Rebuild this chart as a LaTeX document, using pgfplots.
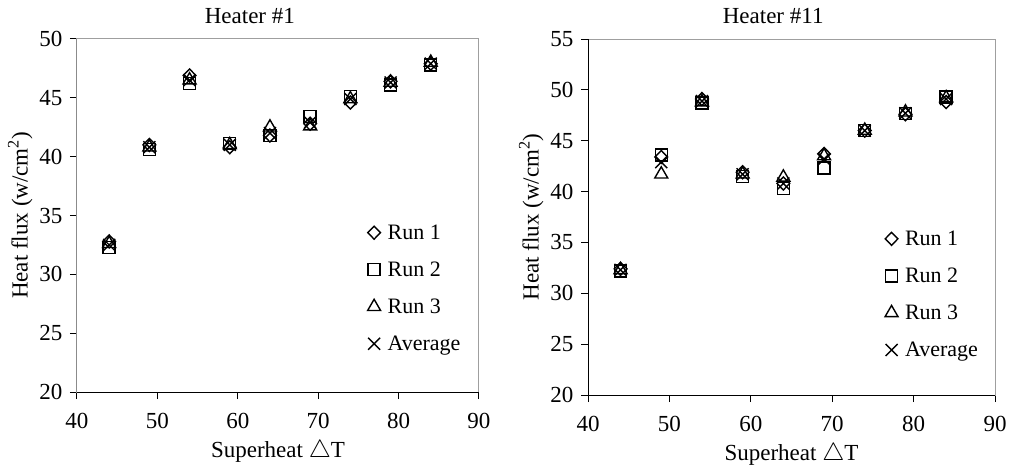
\documentclass[border=0pt]{standalone}
\usepackage{fontspec}
\setmainfont{Liberation Serif}
\usepackage{pgfplots}
\pgfplotsset{compat=1.18}
\begin{document}
\begin{tikzpicture}[x=1pt,y=1pt]
\useasboundingbox (-77pt,-72pt) rectangle (933pt,392pt);
\pgfplotsset{
  heater/.style={
    scale only axis,
    font=\fontsize{23}{27}\selectfont,
    tick label style={font=\fontsize{23}{27}\selectfont},
    /pgf/number format/assume math mode=true,
    xmin=40, xmax=90, xtick={40,50,...,90},
    tick align=outside, xtick pos=bottom, ytick pos=left,
    major tick length=7pt,
    major tick style={black, line width=1pt},
    axis line style={draw=gray!75, line width=1pt},
    xticklabel style={yshift=-11pt},
    yticklabel style={xshift=-4pt},
    xlabel={Superheat $\triangle$T},
    ylabel={Heat flux (w/cm\textsuperscript{2})},
    xlabel style={yshift=-4pt},
    ylabel style={yshift=0pt},
    legend cell align=left,
    legend style={draw=none, fill=none, row sep=17pt, column sep=5pt, font=\fontsize{22}{26}\selectfont},
  },
  m1/.style={only marks, black, line width=1.4pt, mark=diamond, mark size=6.5pt, mark options={xscale=1.3}},
  m2/.style={only marks, black, line width=1.4pt, mark=square, mark size=6pt},
  m3/.style={only marks, black, line width=1.4pt, mark=triangle, mark size=7.5pt},
  m4/.style={only marks, black, line width=1.4pt, mark=x, mark size=8.5pt},
}
\begin{axis}[heater, at={(0pt,0pt)}, anchor=south west, width=402pt, height=353pt,
  ymin=20, ymax=50, ytick={20,25,...,50},
  title={Heater \#1}, title style={at={(0.43,1)}, anchor=center, yshift=17pt},
  legend style={at={(0.715,0.486)}, anchor=north west}]
\addplot[m1] coordinates {(44,32.8) (49,41.0) (54,46.9) (59,40.8) (64,41.8) (69,42.8) (74,44.6) (79,46.4) (84,47.9)};
\addplot[m2] coordinates {(44,32.3) (49,40.6) (54,46.2) (59,41.1) (64,41.8) (69,43.4) (74,45.1) (79,46.1) (84,47.8)};
\addplot[m3] coordinates {(44,32.6) (49,40.8) (54,46.5) (59,41.0) (64,42.5) (69,42.6) (74,44.9) (79,46.3) (84,48.0)};
\addplot[m4] coordinates {(44,32.5) (49,40.8) (54,46.5) (59,41.0) (64,42.0) (69,42.9) (74,44.9) (79,46.3) (84,47.9)};
\legend{Run 1, Run 2, Run 3, Average}
\draw[black, line width=1pt] (rel axis cs:0,1) -- (rel axis cs:0,0) -- (rel axis cs:1,0);
\end{axis}
\begin{axis}[heater, at={(511pt,-3pt)}, anchor=south west, width=407pt, height=356pt,
  ymin=20, ymax=55, ytick={20,25,...,55},
  title={Heater \#11}, title style={at={(0.455,1)}, anchor=center, yshift=17pt},
  legend style={at={(0.722,0.473)}, anchor=north west}]
\addplot[m1] coordinates {(44,32.4) (49,43.4) (54,49.1) (59,41.9) (64,40.8) (69,43.7) (74,46.0) (79,47.6) (84,48.8)};
\addplot[m2] coordinates {(44,32.2) (49,43.6) (54,48.7) (59,41.5) (64,40.3) (69,42.3) (74,46.0) (79,47.7) (84,49.3)};
\addplot[m3] coordinates {(44,32.3) (49,41.7) (54,48.8) (59,41.7) (64,41.4) (69,43.5) (74,46.0) (79,47.8) (84,49.2)};
\addplot[m4] coordinates {(44,32.3) (49,42.9) (54,48.9) (59,41.7) (64,40.8) (69,43.2) (74,46.0) (79,47.7) (84,49.1)};
\legend{Run 1, Run 2, Run 3, Average}
\draw[black, line width=1pt] (rel axis cs:0,1) -- (rel axis cs:0,0) -- (rel axis cs:1,0);
\end{axis}
\end{tikzpicture}
\end{document}
